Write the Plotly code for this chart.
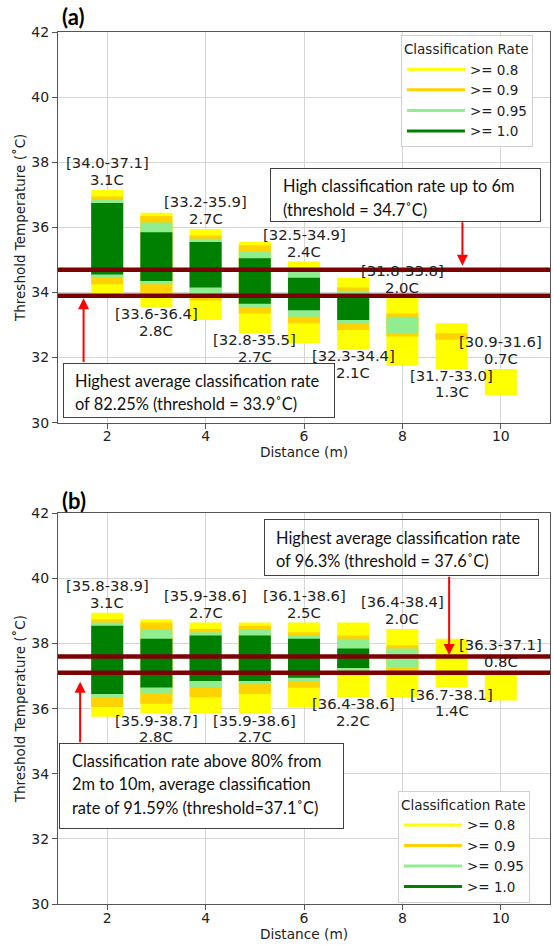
import plotly.graph_objects as go

# ---------------- data ----------------
distances = [2, 3, 4, 5, 6, 7, 8, 9, 10]

# Panel (a): nested threshold intervals (deg C) reaching each classification-rate level
a_lo80 = [34.0, 33.6, 33.2, 32.8, 32.5, 32.3, 31.8, 31.7, 30.9]
a_hi80 = [37.1, 36.4, 35.9, 35.5, 34.9, 34.4, 33.8, 33.0, 31.6]
a_lo90 = [34.3, 34.0, 33.8, 33.4, 33.1, 32.9, 32.7, 32.6, None]
a_hi90 = [36.9, 36.3, 35.7, 35.4, 34.7, 34.1, 33.3, 32.7, None]
a_lo95 = [34.5, 34.3, 34.0, 33.6, 33.3, 33.1, 32.8, None, None]
a_hi95 = [36.8, 36.1, 35.6, 35.2, 34.6, 34.0, 33.2, None, None]
a_lo100 = [34.6, 34.4, 34.2, 33.7, 33.5, 33.2, None, None, None]
a_hi100 = [36.7, 35.8, 35.5, 35.0, 34.4, 33.9, None, None, None]
a_thresholds = [34.7, 33.9]

# Panel (b)
b_lo80 = [35.8, 35.9, 35.9, 35.9, 36.1, 36.4, 36.4, 36.7, 36.3]
b_hi80 = [38.9, 38.7, 38.6, 38.6, 38.6, 38.6, 38.4, 38.1, 37.1]
b_lo90 = [36.1, 36.2, 36.4, 36.5, 36.7, 37.1, 37.2, None, None]
b_hi90 = [38.7, 38.6, 38.4, 38.5, 38.3, 38.2, 37.9, None, None]
b_lo95 = [36.4, 36.5, 36.7, 36.8, 36.9, 37.2, 37.3, None, None]
b_hi95 = [38.6, 38.4, 38.3, 38.4, 38.2, 38.1, 37.8, None, None]
b_lo100 = [36.5, 36.7, 36.9, 36.9, 37.0, 37.3, None, None, None]
b_hi100 = [38.5, 38.1, 38.2, 38.2, 38.1, 37.8, None, None, None]
b_thresholds = [37.6, 37.1]

level_names = [">= 0.8", ">= 0.9", ">= 0.95", ">= 1.0"]
level_colors = ["#FFFF00", "#FFD200", "#90EE90", "#008000"]
label_side = ["above", "below", "above", "below", "above", "below", "above", "below", "above"]

STEP = 0.1  # threshold step: each value is drawn as a cell of +-STEP/2
MONO = "DejaVu Sans"
CAL = "Lato"

fig = go.Figure()


def text_box(xa, ya, cx, cy, w, h, left, lines, bg):
    fig.add_annotation(x=cx, y=cy, xref=xa, yref=ya, text=" ", showarrow=False,
                       width=w, height=h, borderpad=0, bordercolor="#404040", borderwidth=1,
                       bgcolor=bg)
    for ly, s in lines:
        fig.add_annotation(x=left, y=ly, xref=xa, yref=ya, text=s, showarrow=False,
                           xanchor="left", yanchor="middle",
                           font=dict(family=CAL, size=16.4, color="#111"))


def arrow(xa, ya, x, y_tail, y_tip):
    fig.add_annotation(x=x, y=y_tip, ax=x, ay=y_tail, xref=xa, yref=ya, axref=xa, ayref=ya,
                       text="", showarrow=True, arrowhead=2, arrowsize=1.1, arrowwidth=2,
                       arrowcolor="#FF0000", standoff=0, startstandoff=0)


def add_panel(xa, ya, legend_name, intervals, thresholds):
    for (lo, hi), name, color in zip(intervals, level_names, level_colors):
        base = [None if l is None else l - STEP / 2 for l in lo]
        height = [None if l is None else (h - l) + STEP for l, h in zip(lo, hi)]
        fig.add_trace(go.Bar(x=distances, y=height, base=base, width=0.65,
                             marker=dict(color=color, line=dict(width=0)),
                             xaxis=xa, yaxis=ya, showlegend=False, hoverinfo="skip"))
    for name, color in zip(level_names, level_colors):
        fig.add_trace(go.Scatter(x=[None], y=[None], mode="lines", name=name,
                                 line=dict(color=color, width=3),
                                 xaxis=xa, yaxis=ya, legend=legend_name))
    for t in thresholds:
        fig.add_shape(type="line", xref=f"{xa} domain", x0=0, x1=1, yref=ya, y0=t, y1=t,
                      line=dict(color="#7B0000", width=4.5), layer="above")


def add_labels(xa, ya, lo80, hi80):
    font = dict(family=MONO, size=14.8, color="#222")
    for d, lo, hi, side in zip(distances, lo80, hi80, label_side):
        rng = f"[{lo:.1f}-{hi:.1f}]"
        wid = f"{hi - lo:.1f}C"
        if side == "above":
            y, shifts = hi + STEP / 2, (27, 10)
        else:
            y, shifts = lo - STEP / 2, (-6.5, -23)
        for s, sh in zip((rng, wid), shifts):
            fig.add_annotation(x=d, y=y, xref=xa, yref=ya, text=s, showarrow=False,
                               yanchor="middle", yshift=sh, font=font)


add_panel("x", "y", "legend",
          [(a_lo80, a_hi80), (a_lo90, a_hi90), (a_lo95, a_hi95), (a_lo100, a_hi100)], a_thresholds)
add_panel("x2", "y2", "legend2",
          [(b_lo80, b_hi80), (b_lo90, b_hi90), (b_lo95, b_hi95), (b_lo100, b_hi100)], b_thresholds)

# panel (a) call-outs
text_box("x", "y", 8.07, 37.005, 269, 52, 5.53,
         [(37.28, "High classification rate up to 6m"), (36.555, "(threshold = 34.7˚C)")],
         "white")
arrow("x", "y", 9.22, 36.2, 34.82)
text_box("x", "y", 3.87, 30.985, 270, 53, 1.305,
         [(31.28, "Highest average classification rate"),
          (30.575, "of 82.25% (threshold = 33.9˚C)")], "white")
arrow("x", "y", 1.52, 31.82, 33.82)

# panel (b) call-outs
text_box("x2", "y2", 7.979, 40.96, 273, 55, 5.384,
         [(41.27, "Highest average classification rate"),
          (40.544, "of 96.3% (threshold = 37.6˚C)")], "rgba(0,0,0,0)")
arrow("x2", "y2", 8.95, 40.1, 37.65)
text_box("x2", "y2", 3.921, 33.62, 283, 84, 1.234,
         [(34.42, "Classification rate above 80% from"),
          (33.69, "2m to 10m, average classification"),
          (32.95, "rate of 91.59% (threshold=37.1˚C)")], "white")
arrow("x2", "y2", 1.45, 34.92, 36.83)

add_labels("x", "y", a_lo80, a_hi80)
add_labels("x2", "y2", b_lo80, b_hi80)

# panel letters
fig.add_annotation(x=0.004, y=1.0177, xref="paper", yref="paper", text="<b>(a)</b>",
                   showarrow=False, xanchor="left", yanchor="middle",
                   font=dict(family=CAL, size=22, color="#000"))
fig.add_annotation(x=0.004, y=0.4633, xref="paper", yref="paper", text="<b>(b)</b>",
                   showarrow=False, xanchor="left", yanchor="middle",
                   font=dict(family=CAL, size=22, color="#000"))

axis_common = dict(showgrid=True, gridcolor="#D6D6D6", gridwidth=1, showline=True,
                   linecolor="#555", linewidth=1, mirror=True, ticks="outside", ticklen=5,
                   tickcolor="#555", tickfont=dict(family=MONO, size=14, color="#222"),
                   zeroline=False)
xcommon = dict(axis_common, range=[1, 11], tickvals=[2, 4, 6, 8, 10], ticklabelstandoff=-4,
               title=dict(text="Distance (m)", font=dict(family=MONO, size=13.7, color="#222"),
                          standoff=0))
ycommon = dict(axis_common, range=[30, 42], tickvals=[30, 32, 34, 36, 38, 40, 42],
               title=dict(text="Threshold Temperature (˚C)",
                          font=dict(family=MONO, size=13.5, color="#222"), standoff=2))

legend_common = dict(xanchor="left", yanchor="top", bgcolor="rgba(255,255,255,0.9)",
                     bordercolor="#D0D0D0", borderwidth=1,
                     font=dict(family=MONO, size=13.5, color="#222"),
                     title=dict(text="Classification Rate", font=dict(family=MONO, size=13.5, color="#222")),
                     tracegroupgap=0, itemwidth=58)

fig.update_layout(
    width=553, height=945, margin=dict(l=58, r=3, t=32, b=41),
    paper_bgcolor="white", plot_bgcolor="white", barmode="overlay",
    xaxis=dict(xcommon, domain=[0, 1], anchor="y"),
    yaxis=dict(ycommon, domain=[0.552, 1], anchor="x"),
    xaxis2=dict(xcommon, domain=[0, 1], anchor="y2"),
    yaxis2=dict(ycommon, domain=[0, 0.448], anchor="x2"),
    legend=dict(legend_common, x=0.697, y=0.996),
    legend2=dict(legend_common, x=0.691, y=0.1295),
    showlegend=True,
)

fig.write_html("out.html")
